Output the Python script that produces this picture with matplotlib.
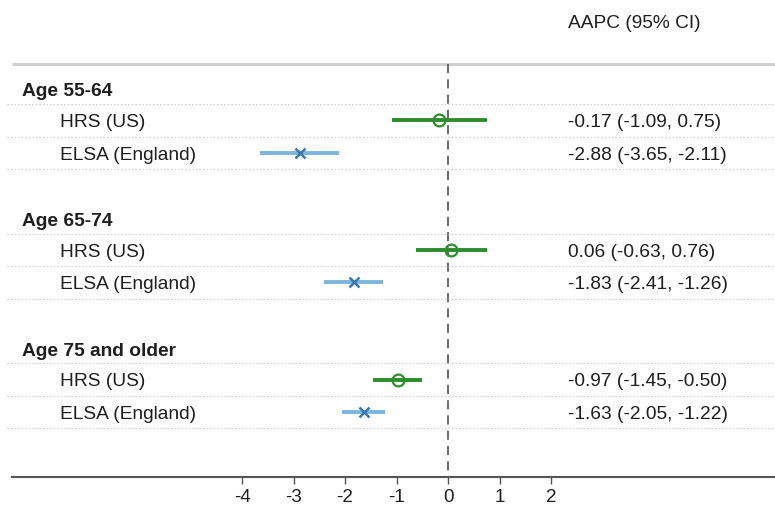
import matplotlib
matplotlib.use("Agg")
import matplotlib.pyplot as plt

groups = ["Age 55-64", "Age 65-74", "Age 75 and older"]
cohorts = ["HRS (US)", "ELSA (England)"]

hrs_est = [-0.17, 0.06, -0.97]
hrs_lo = [-1.09, -0.63, -1.45]
hrs_hi = [0.75, 0.76, -0.50]

elsa_est = [-2.88, -1.83, -1.63]
elsa_lo = [-3.65, -2.41, -2.05]
elsa_hi = [-2.11, -1.26, -1.22]

xticks = [-4, -3, -2, -1, 0, 1, 2]

green = "#2e8b2e"
blue_line = "#7db6dc"
blue_mark = "#3c78b0"
txt = "#1e1e1e"

plt.rcParams['font.family'] = ['Liberation Sans', 'DejaVu Sans']

fig = plt.figure(figsize=(7.75, 5.12), dpi=100)
ax = fig.add_axes([0, 0.069, 1, 0.931])
xl, xr = -8.7, 6.35
ax.set_xlim(xl, xr)
ax.set_ylim(12, -2.72)

fs = 13.8
x_head = -8.27
x_lab = -7.53
x_txt = 2.33

# top rule and header
ax.plot([-8.47, xr], [-0.73, -0.73], color="#d0d0d0", lw=2.2, solid_capstyle="butt", clip_on=False)
ax.text(x_txt, -2, "AAPC (95% CI)", fontsize=fs, color=txt, va="center", ha="left")

# null line
ax.plot([0, 0], [-0.73, 12], color="#444444", lw=1.1, dashes=(6, 4))

for g, name in enumerate(groups):
    base = 4 * g
    ax.text(x_head, base + 0.12, name, fontsize=fs, fontweight="bold", color=txt, va="center", ha="left")
    for k in (0.5, 1.5, 2.5):
        ax.plot([-8.56, xr], [base + k, base + k], color="#bdbdbd", lw=0.8, dashes=(1, 2.2))

    r = base + 1
    ax.text(x_lab, r + 0.07, cohorts[0], fontsize=fs, color=txt, va="center", ha="left")
    ax.plot([hrs_lo[g], hrs_hi[g]], [r, r], color=green, lw=2.8, solid_capstyle="butt")
    ax.plot(hrs_est[g], r, marker="o", ms=8.5, mfc="none", mec=green, mew=1.6)
    ax.text(x_txt, r + 0.07, "%.2f (%.2f, %.2f)" % (hrs_est[g], hrs_lo[g], hrs_hi[g]),
            fontsize=fs, color=txt, va="center", ha="left")

    r = base + 2
    ax.text(x_lab, r + 0.07, cohorts[1], fontsize=fs, color=txt, va="center", ha="left")
    ax.plot([elsa_lo[g], elsa_hi[g]], [r, r], color=blue_line, lw=2.8, solid_capstyle="butt")
    ax.plot(elsa_est[g], r, marker="x", ms=7.5, mec=blue_mark, mew=1.8)
    ax.text(x_txt, r + 0.07, "%.2f (%.2f, %.2f)" % (elsa_est[g], elsa_lo[g], elsa_hi[g]),
            fontsize=fs, color=txt, va="center", ha="left")

for s in ["top", "left", "right"]:
    ax.spines[s].set_visible(False)
ax.spines["bottom"].set_bounds(-8.47, xr)
ax.spines["bottom"].set_color("#555555")
ax.spines["bottom"].set_linewidth(1.5)
ax.set_yticks([])
ax.set_xticks(xticks)
ax.set_xticklabels([str(t) for t in xticks])
ax.tick_params(axis="x", length=5, width=1, color="#555555", labelsize=13.5, labelcolor=txt, pad=4)

fig.savefig("out.png", dpi=100)
